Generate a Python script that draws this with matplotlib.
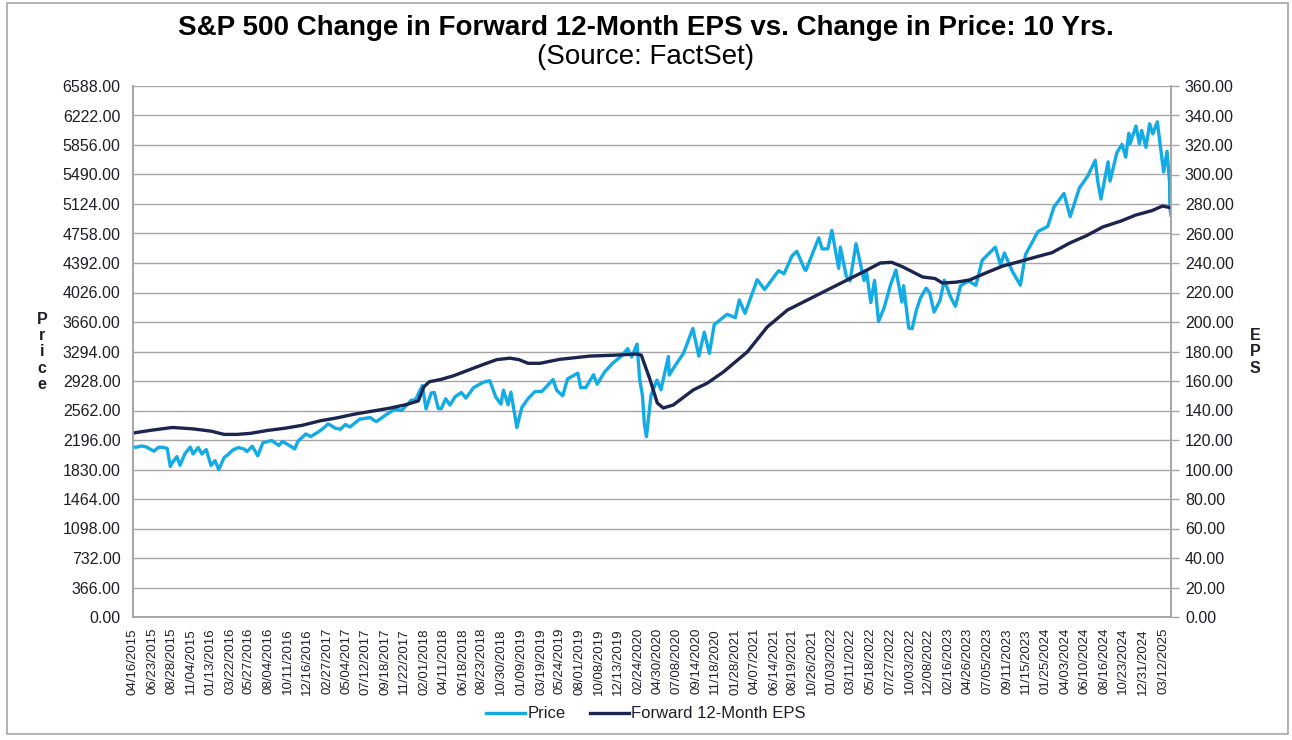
import numpy as np
import pandas as pd
import matplotlib
matplotlib.use("Agg")
import matplotlib.pyplot as plt
from matplotlib.patches import Rectangle

plt.rcParams['font.family'] = ['Liberation Sans', 'DejaVu Sans']

# S&P 500 price
price_dates = [
    "2015-04-16", "2015-05-01", "2015-05-15", "2015-06-01", "2015-06-15", "2015-06-29",
    "2015-07-15", "2015-07-31", "2015-08-14", "2015-08-25", "2015-09-01", "2015-09-17",
    "2015-09-28", "2015-10-15", "2015-11-03", "2015-11-13", "2015-12-01", "2015-12-14",
    "2015-12-29", "2016-01-15", "2016-01-29", "2016-02-11", "2016-03-01", "2016-03-15",
    "2016-04-01", "2016-04-20", "2016-05-10", "2016-05-20", "2016-06-08", "2016-06-27",
    "2016-07-15", "2016-08-15", "2016-09-09", "2016-09-22", "2016-10-14", "2016-11-04",
    "2016-11-15", "2016-12-13", "2016-12-30", "2017-01-26", "2017-02-15", "2017-03-01",
    "2017-03-27", "2017-04-13", "2017-05-01", "2017-05-17", "2017-06-19", "2017-07-27",
    "2017-08-10", "2017-08-18", "2017-09-20", "2017-10-20", "2017-11-15", "2017-12-18",
    "2018-01-02", "2018-01-26", "2018-02-08", "2018-02-26", "2018-03-09", "2018-03-23",
    "2018-04-02", "2018-04-18", "2018-05-03", "2018-05-21", "2018-06-12", "2018-06-28",
    "2018-07-25", "2018-08-29", "2018-09-20", "2018-10-11", "2018-10-29", "2018-11-07",
    "2018-11-23", "2018-12-03", "2018-12-24", "2019-01-10", "2019-01-31", "2019-02-25",
    "2019-03-22", "2019-04-30", "2019-05-13", "2019-06-03", "2019-06-20", "2019-07-26",
    "2019-08-05", "2019-08-23", "2019-09-19", "2019-10-02", "2019-10-28", "2019-11-27",
    "2019-12-27", "2020-01-17", "2020-01-31", "2020-02-19", "2020-02-28", "2020-03-09",
    "2020-03-16", "2020-03-23", "2020-04-08", "2020-04-29", "2020-05-13", "2020-06-08",
    "2020-06-11", "2020-07-01", "2020-07-31", "2020-09-02", "2020-09-23", "2020-10-12",
    "2020-10-30", "2020-11-16", "2020-12-31", "2021-01-29", "2021-02-12", "2021-03-04",
    "2021-04-16", "2021-05-12", "2021-06-30", "2021-07-19", "2021-08-16", "2021-09-02",
    "2021-09-30", "2021-10-04", "2021-11-18", "2021-11-30", "2021-12-20", "2022-01-03",
    "2022-01-27", "2022-02-02", "2022-02-23", "2022-03-08", "2022-03-29", "2022-04-26",
    "2022-05-04", "2022-05-20", "2022-06-02", "2022-06-16", "2022-07-05", "2022-07-29",
    "2022-08-16", "2022-09-06", "2022-09-12", "2022-09-30", "2022-10-12", "2022-10-27",
    "2022-11-10", "2022-11-30", "2022-12-13", "2022-12-28", "2023-01-18", "2023-02-02",
    "2023-02-24", "2023-03-13", "2023-03-31", "2023-04-28", "2023-05-24", "2023-06-15",
    "2023-07-31", "2023-08-18", "2023-09-01", "2023-09-29", "2023-10-27", "2023-11-14",
    "2023-12-28", "2024-01-31", "2024-02-22", "2024-03-28", "2024-04-19", "2024-05-21",
    "2024-06-20", "2024-07-16", "2024-07-25", "2024-08-05", "2024-08-30", "2024-09-06",
    "2024-09-30", "2024-10-18", "2024-10-31", "2024-11-11", "2024-11-15", "2024-12-06",
    "2024-12-18", "2024-12-26", "2025-01-10", "2025-01-23", "2025-02-03", "2025-02-19",
    "2025-03-04", "2025-03-13", "2025-03-25", "2025-04-03", "2025-04-04", "2025-04-08",
]
price_values = [
    2106, 2108, 2122, 2111, 2084, 2057,
    2107, 2104, 2092, 1868, 1914, 1990,
    1882, 2024, 2109, 2023, 2103, 2022,
    2078, 1880, 1940, 1829, 1978, 2016,
    2073, 2102, 2084, 2052, 2119, 2000,
    2162, 2190, 2128, 2177, 2133, 2085,
    2180, 2271, 2239, 2296, 2349, 2396,
    2342, 2329, 2388, 2357, 2453, 2475,
    2438, 2425, 2508, 2575, 2565, 2690,
    2695, 2872, 2581, 2779, 2786, 2588,
    2582, 2708, 2629, 2733, 2786, 2716,
    2846, 2914, 2931, 2728, 2641, 2814,
    2633, 2790, 2351, 2597, 2704, 2796,
    2800, 2946, 2812, 2744, 2954, 3026,
    2845, 2847, 3006, 2888, 3040, 3154,
    3240, 3330, 3226, 3386, 2954, 2747,
    2386, 2237, 2750, 2940, 2820, 3232,
    3002, 3116, 3271, 3580, 3237, 3534,
    3270, 3627, 3756, 3714, 3934, 3768,
    4185, 4063, 4297, 4258, 4479, 4537,
    4308, 4300, 4705, 4567, 4568, 4797,
    4326, 4589, 4225, 4170, 4632, 4175,
    4300, 3901, 4177, 3667, 3831, 4130,
    4305, 3908, 4110, 3586, 3577, 3808,
    3956, 4080, 4019, 3783, 3929, 4179,
    3970, 3855, 4109, 4169, 4115, 4426,
    4589, 4370, 4516, 4288, 4117, 4496,
    4783, 4846, 5087, 5254, 4967, 5321,
    5473, 5667, 5399, 5186, 5648, 5408,
    5762, 5864, 5705, 6001, 5870, 6090,
    5872, 6037, 5827, 6119, 5994, 6144,
    5778, 5521, 5777, 5397, 5074, 4982,
]

# Forward 12-month EPS
eps_dates = [
    "2015-04-16", "2015-06-15", "2015-09-01", "2015-11-15", "2016-01-15", "2016-03-01",
    "2016-04-15", "2016-06-01", "2016-08-01", "2016-10-01", "2016-12-01", "2017-02-01",
    "2017-04-01", "2017-06-01", "2017-08-01", "2017-10-01", "2017-12-01", "2018-01-12",
    "2018-01-31", "2018-02-20", "2018-03-31", "2018-05-15", "2018-07-15", "2018-09-01",
    "2018-10-15", "2018-11-30", "2018-12-31", "2019-02-01", "2019-03-15", "2019-05-24",
    "2019-09-07", "2019-12-01", "2020-02-20", "2020-03-05", "2020-04-05", "2020-04-30",
    "2020-05-21", "2020-06-25", "2020-09-03", "2020-10-23", "2020-12-18", "2021-03-12",
    "2021-05-21", "2021-07-31", "2021-12-18", "2022-05-07", "2022-06-22", "2022-08-01",
    "2022-09-10", "2022-11-18", "2022-12-31", "2023-01-27", "2023-03-15", "2023-05-02",
    "2023-06-27", "2023-08-27", "2023-10-15", "2023-12-19", "2024-02-15", "2024-04-17",
    "2024-06-15", "2024-08-11", "2024-10-15", "2024-12-05", "2025-01-31", "2025-03-09",
    "2025-04-08",
]
eps_values = [
    124.7, 126.5, 128.5, 127.5, 126.0, 123.8,
    123.8, 124.5, 126.5, 128.0, 130.0, 133.0,
    135.0, 137.5, 139.5, 141.5, 144.0, 146.5,
    156.0, 159.5, 161.0, 163.5, 168.0, 171.5,
    174.5, 175.5, 174.5, 172.0, 172.0, 174.7,
    176.9, 177.5, 178.3, 177.5, 160.7, 145.1,
    141.7, 143.7, 153.9, 158.6, 166.1, 179.7,
    196.6, 208.1, 221.7, 235.3, 240.0, 240.5,
    237.3, 230.5, 229.5, 226.4, 227.0, 228.5,
    233.2, 238.0, 240.5, 244.0, 247.0, 253.5,
    258.5, 264.4, 268.5, 272.5, 275.5, 278.6,
    277.5,
]

tick_labels = [
    "04/16/2015", "06/23/2015", "08/28/2015", "11/04/2015", "01/13/2016", "03/22/2016",
    "05/27/2016", "08/04/2016", "10/11/2016", "12/16/2016", "02/27/2017", "05/04/2017",
    "07/12/2017", "09/18/2017", "11/22/2017", "02/01/2018", "04/11/2018", "06/18/2018",
    "08/23/2018", "10/30/2018", "01/09/2019", "03/19/2019", "05/24/2019", "08/01/2019",
    "10/08/2019", "12/13/2019", "02/24/2020", "04/30/2020", "07/08/2020", "09/14/2020",
    "11/18/2020", "01/28/2021", "04/07/2021", "06/14/2021", "08/19/2021", "10/26/2021",
    "01/03/2022", "03/11/2022", "05/18/2022", "07/27/2022", "10/03/2022", "12/08/2022",
    "02/16/2023", "04/26/2023", "07/05/2023", "09/11/2023", "11/15/2023", "01/25/2024",
    "04/03/2024", "06/10/2024", "08/16/2024", "10/23/2024", "12/31/2024", "03/12/2025",
]

price_color = '#12ABE6'
eps_color = '#1B2550'
grid_color = '#A6A6A6'
text_color = '#1E1E28'

fig = plt.figure(figsize=(12.92, 7.4), dpi=100)
ax = fig.add_axes([133 / 1292, 1 - 617 / 740, (1171 - 133) / 1292, (617 - 86) / 740])
ax2 = ax.twinx()

pd_price = pd.to_datetime(price_dates)
pd_eps = pd.to_datetime(eps_dates)

ax.plot(pd_price, price_values, color=price_color, lw=2.4, label='Price')
ax2.plot(pd_eps, eps_values, color=eps_color, lw=2.4, label='Forward 12-Month EPS')

ax.set_ylim(0, 6588)
ax.set_yticks(np.arange(0, 6588 + 1, 366))
ax.set_yticklabels(['%.2f' % v for v in np.arange(0, 6588 + 1, 366)])
ax2.set_ylim(0, 360)
ax2.set_yticks(np.arange(0, 361, 20))
ax2.set_yticklabels(['%.2f' % v for v in np.arange(0, 361, 20)])

ax.set_xlim(pd.Timestamp("2015-04-16"), pd.Timestamp("2025-04-08"))
ax.set_xticks(pd.to_datetime(tick_labels, format="%m/%d/%Y"))
ax.set_xticklabels(tick_labels, rotation=90, fontsize=9.5, color=text_color)

ax.grid(axis='y', color=grid_color, lw=1)
ax.set_axisbelow(True)
ax.tick_params(axis='y', length=0, pad=9, labelsize=11.5, labelcolor=text_color)
ax.tick_params(axis='x', length=0, pad=8)
ax2.tick_params(axis='y', length=6, width=1, color=grid_color, pad=4,
                labelsize=11.5, labelcolor=text_color)

for a in (ax, ax2):
    for side in ('left', 'right', 'bottom'):
        a.spines[side].set_color(grid_color)
        a.spines[side].set_linewidth(1.2)
    a.spines['top'].set_visible(False)

fig.text(0.5, 1 - 28 / 740, "S&P 500 Change in Forward 12-Month EPS vs. Change in Price: 10 Yrs.",
         ha='center', va='center', fontsize=20, fontweight='bold', color='black')
fig.text(0.5, 1 - 57 / 740, "(Source: FactSet)", ha='center', va='center',
         fontsize=20, color='black')

fig.text(42 / 1292, 1 - 352 / 740, "P\nr\ni\nc\ne", ha='center', va='center',
         fontsize=11.5, fontweight='bold', linespacing=1.1, color=text_color)
fig.text(1255 / 1292, 1 - 352 / 740, "E\nP\nS", ha='center', va='center',
         fontsize=11.5, fontweight='bold', linespacing=1.1, color=text_color)

h1, l1 = ax.get_legend_handles_labels()
h2, l2 = ax2.get_legend_handles_labels()
fig.legend(h1 + h2, l1 + l2, loc='center', bbox_to_anchor=(0.5, 1 - 714 / 740),
           ncol=2, frameon=False, fontsize=12, handlelength=2.3,
           handletextpad=0.15, columnspacing=1.5, labelcolor=text_color)

fig.patches.append(Rectangle((7 / 1292, 1 - 734 / 740), (1288 - 7) / 1292, (734 - 3) / 740,
                             transform=fig.transFigure, fill=False,
                             edgecolor=grid_color, lw=1.2))

fig.savefig('out.png', dpi=100)
